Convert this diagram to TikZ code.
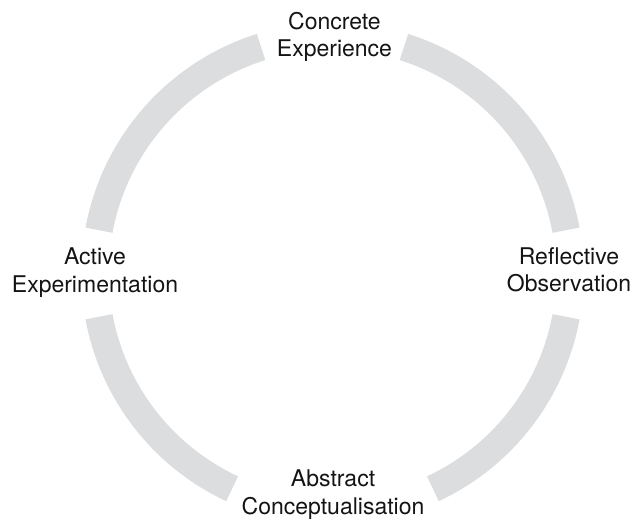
\documentclass[tikz,border=0pt]{standalone}
\usepackage{fontspec}
\setmainfont{TeX Gyre Heros}
\usepackage{xcolor}
\definecolor{cyclegray}{RGB}{220,221,223}
\definecolor{cycletext}{RGB}{20,20,20}

\begin{document}
\begin{tikzpicture}[x=1pt, y=1pt,
    ringpart/.style={draw=cyclegray, line width=27.5pt, line cap=butt},
    stagelabel/.style={align=center, inner sep=0pt, text=cycletext,
        font=\fontsize{23}{27.5}\selectfont}]
    \useasboundingbox (0,0) rectangle (635,521);
    \coordinate (mid) at (332.5,247.5);

    % Ring segments
    \foreach \a/\b in {10.5/72.5, 107.5/169.5, 190.5/245, 295/349.5}
        \draw[ringpart] (mid) ++(\a:237.5) arc[start angle=\a, end angle=\b, radius=237.5pt];

    % Stages
    \node[stagelabel] (conc) at (334.5,484) {Concrete\\Experience};
    \node[stagelabel] (refl) at (569,251) {Reflective\\Observation};
    \node[stagelabel] (abst) at (333,26.5) {Abstract\\Conceptualisation};
    \node[stagelabel] (actv) at (95,248.5) {Active\\Experimentation};
\end{tikzpicture}
\end{document}
